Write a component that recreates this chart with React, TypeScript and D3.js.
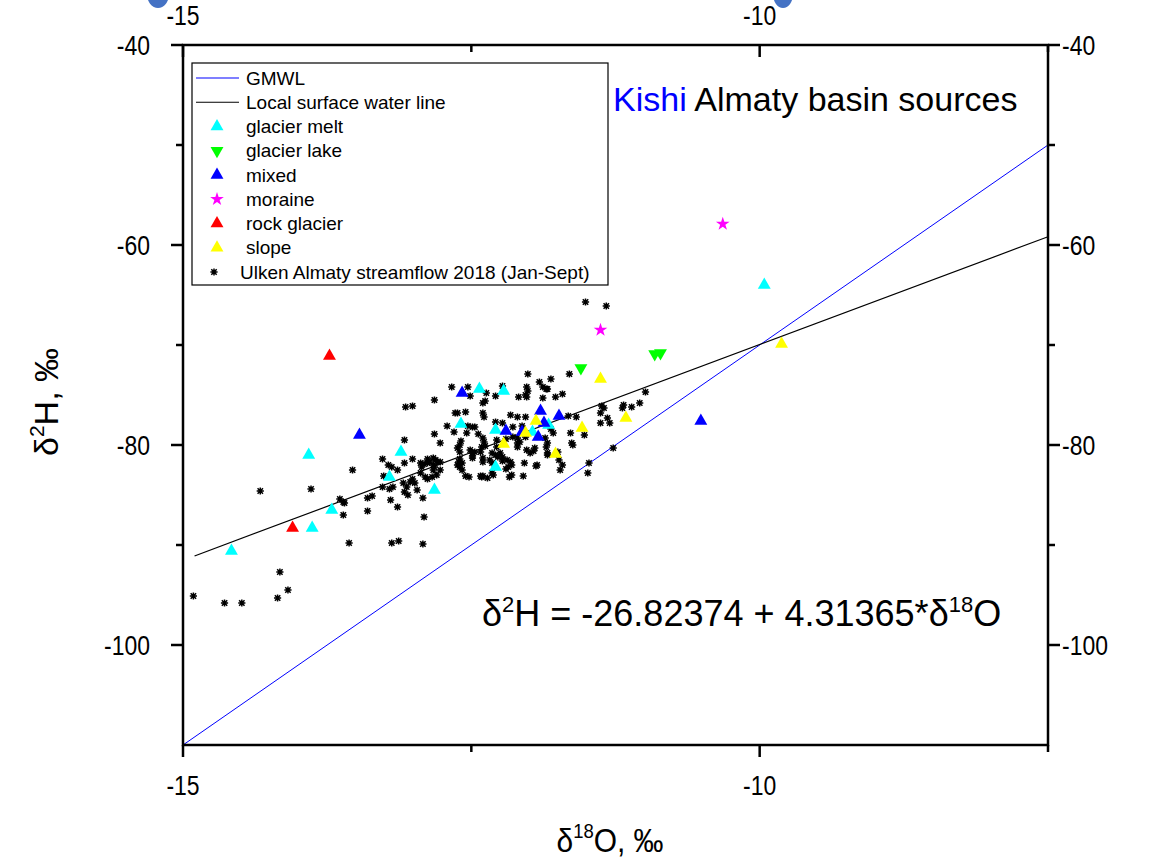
import React from "react";
import * as d3 from "d3";

// ---------- data ----------
const xMajorTicks = [-15, -10];
const xMinorTicks = [-12.5, -7.5];
const yMajorTicks = [-40, -60, -80, -100];
const yMinorTicks = [-50, -70, -90];

const gmwl = { intercept: 10, slope: 8, from: -15, to: -7.5 };
const lswl = { intercept: -26.82374, slope: 4.31365, from: -14.9, to: -7.5 };

const glacierMelt: [number, number][] = [
  [-14.58, -90.6], [-13.91, -81.0], [-13.88, -88.3], [-13.71, -86.5], [-13.21, -83.2],
  [-13.11, -80.7], [-12.82, -84.5], [-12.59, -77.9], [-12.43, -74.4], [-12.22, -74.6],
  [-12.29, -78.5], [-12.29, -82.2], [-11.97, -78.7], [-11.83, -78.0], [-9.96, -64.0],
];
const glacierLake: [number, number][] = [
  [-11.55, -72.3], [-10.91, -70.9], [-10.86, -70.8],
];
const mixed: [number, number][] = [
  [-13.47, -79.0], [-12.58, -74.8], [-12.2, -78.6], [-12.06, -78.7], [-11.9, -76.6],
  [-11.87, -77.8], [-11.92, -79.2], [-11.74, -77.1], [-10.51, -77.6],
];
const moraine: [number, number][] = [
  [-10.32, -57.9], [-11.38, -68.5],
];
const rockGlacier: [number, number][] = [
  [-13.73, -71.1], [-14.05, -88.3],
];
const slope: [number, number][] = [
  [-12.22, -79.9], [-12.03, -78.8], [-11.94, -77.6], [-11.77, -80.9], [-11.54, -78.3],
  [-11.38, -73.4], [-11.16, -77.3], [-9.81, -69.9],
];
const streamflow: [number, number][] = [
  [-14.91, -95.1], [-14.64, -95.8], [-14.49, -95.8], [-14.33, -84.6], [-14.18, -95.3],
  [-14.09, -94.5], [-14.16, -92.7], [-13.89, -84.4], [-13.56, -89.8], [-13.64, -85.4],
  [-13.61, -85.7], [-13.6, -85.8], [-13.61, -87.0], [-13.53, -82.5], [-13.4, -85.3],
  [-13.36, -85.1], [-13.4, -86.6], [-13.27, -81.4], [-13.22, -82.0], [-13.19, -82.2],
  [-13.14, -82.5], [-13.26, -83.1], [-13.27, -84.2], [-13.21, -84.4], [-13.18, -84.2],
  [-13.2, -85.5], [-13.14, -86.2], [-13.09, -83.8], [-13.06, -84.2], [-13.08, -84.7],
  [-13.05, -85.0], [-13.19, -89.8], [-13.13, -89.6], [-13.08, -79.5], [-13.08, -81.8],
  [-13.07, -76.2], [-13.01, -76.1], [-13.01, -81.4], [-13.03, -83.7], [-13.01, -83.4],
  [-12.99, -83.8], [-12.97, -84.5], [-12.92, -85.3], [-12.91, -87.2], [-12.92, -89.9],
  [-12.94, -81.8], [-12.91, -81.9], [-12.94, -82.8], [-12.93, -82.2], [-12.88, -81.8],
  [-12.88, -81.4], [-12.86, -81.7], [-12.83, -82.0], [-12.81, -81.5], [-12.83, -81.3],
  [-12.79, -81.7], [-12.82, -82.2], [-12.77, -82.5], [-12.83, -82.5], [-12.84, -83.2],
  [-12.8, -83.0], [-12.88, -83.4], [-12.9, -83.2], [-12.77, -81.7], [-12.82, -75.5],
  [-12.82, -78.9], [-12.77, -79.8], [-12.71, -78.1], [-12.67, -74.2], [-12.64, -76.8],
  [-12.62, -76.8], [-12.65, -78.7], [-12.62, -80.3], [-12.61, -81.7], [-12.6, -81.4],
  [-12.58, -81.8], [-12.6, -82.2], [-12.58, -82.5], [-12.62, -82.0], [-12.55, -76.7],
  [-12.53, -74.2], [-12.51, -75.1], [-12.37, -74.8], [-12.29, -75.1], [-12.23, -74.1],
  [-12.4, -75.8], [-12.38, -75.6], [-12.4, -76.8], [-12.39, -77.2], [-12.53, -78.1],
  [-12.49, -78.2], [-12.47, -78.2], [-12.54, -78.8], [-12.44, -78.9], [-12.59, -79.6],
  [-12.6, -80.0], [-12.6, -80.7], [-12.51, -80.5], [-12.49, -80.8], [-12.47, -80.7],
  [-12.49, -81.1], [-12.49, -81.3], [-12.41, -80.2], [-12.42, -80.7], [-12.4, -79.3],
  [-12.39, -79.7], [-12.38, -80.1], [-12.4, -81.3], [-12.4, -81.7], [-12.34, -81.5],
  [-12.32, -81.8], [-12.32, -80.8], [-12.29, -81.0], [-12.27, -81.2], [-12.25, -80.8],
  [-12.23, -81.6], [-12.23, -81.2], [-12.28, -80.2], [-12.28, -79.5], [-12.29, -77.7],
  [-12.23, -77.8], [-12.16, -77.0], [-12.1, -77.2], [-12.03, -77.2], [-12.14, -78.2],
  [-12.06, -78.1], [-12.2, -79.4], [-12.14, -79.2], [-12.1, -79.3], [-12.1, -79.8],
  [-12.1, -80.2], [-12.03, -79.2], [-12.08, -79.7], [-12.02, -80.5], [-11.99, -80.8],
  [-11.95, -80.3], [-11.96, -80.6], [-12.04, -81.8], [-11.94, -82.1], [-12.19, -81.5],
  [-12.16, -81.7], [-12.15, -82.0], [-12.18, -82.2], [-12.2, -82.4], [-12.17, -83.2],
  [-12.15, -83.0], [-12.05, -83.1], [-12.55, -83.1], [-12.52, -83.2], [-12.42, -83.1],
  [-12.41, -83.2], [-12.4, -83.1], [-12.36, -83.3], [-12.32, -82.8], [-12.31, -83.0],
  [-12.09, -75.2], [-12.02, -74.2], [-12.01, -74.6], [-12.03, -75.0], [-12.02, -75.2],
  [-11.88, -74.2], [-11.85, -74.4], [-11.84, -74.4], [-11.88, -75.3], [-11.77, -75.2],
  [-11.71, -74.9], [-11.91, -73.7], [-11.81, -73.4], [-12.01, -72.9], [-11.65, -72.9],
  [-11.51, -65.7], [-11.33, -66.1], [-11.84, -80.8], [-11.81, -78.4], [-11.79, -78.8],
  [-11.86, -79.3], [-11.84, -79.8], [-11.85, -80.2], [-11.84, -81.0], [-11.93, -82.0],
  [-11.75, -80.7], [-11.74, -81.5], [-11.71, -82.0], [-11.73, -82.5], [-11.64, -78.8],
  [-11.62, -80.0], [-11.63, -79.8], [-11.59, -77.2], [-11.66, -77.1], [-11.52, -79.0],
  [-11.48, -81.8], [-11.49, -82.8], [-11.37, -76.1], [-11.35, -76.3], [-11.38, -76.8],
  [-11.32, -77.3], [-11.38, -77.8], [-11.3, -77.8], [-11.19, -76.3], [-11.18, -76.0],
  [-11.11, -76.2], [-11.04, -75.8], [-10.99, -74.7], [-11.27, -80.3],
];

const legendItems = [
  { label: "GMWL", kind: "line", color: "#0000ff" },
  { label: "Local surface water line", kind: "line", color: "#000000" },
  { label: "glacier melt", kind: "up", color: "#00ffff" },
  { label: "glacier lake", kind: "down", color: "#00ff00" },
  { label: "mixed", kind: "up", color: "#0000ff" },
  { label: "moraine", kind: "star", color: "#ff00ff" },
  { label: "rock glacier", kind: "up", color: "#ff0000" },
  { label: "slope", kind: "up", color: "#ffff00" },
  { label: "Ulken Almaty streamflow 2018 (Jan-Sept)", kind: "ast", color: "#000000" },
];

// ---------- layout ----------
const W = 1151;
const H = 859;
const L = 183, R = 1048, T = 45, B = 745;
const FONT = "'Liberation Sans', Arial, sans-serif";

const x = d3.scaleLinear().domain([-15, -7.5]).range([L, R]);
const y = d3.scaleLinear().domain([-110, -40]).range([B, T]);

const triUp = d3.symbol().type(d3.symbolTriangle).size(72)() as string;
const star = d3.symbol().type(d3.symbolStar).size(58)() as string;
const ast = (r: number) =>
  `M${-r},0L${r},0M0,${-r}L0,${r}M${-r * 0.75},${-r * 0.75}L${r * 0.75},${r * 0.75}M${-r * 0.75},${r * 0.75}L${r * 0.75},${-r * 0.75}`;

function lineD(l: { intercept: number; slope: number; from: number; to: number }) {
  const g = d3.line<number>().x((v) => x(v)).y((v) => y(l.intercept + l.slope * v));
  return g([l.from, l.to]) as string;
}

function Marker({ kind, color, cx, cy }: { kind: string; color: string; cx: number; cy: number }) {
  if (kind === "up") return <path d={triUp} transform={`translate(${cx},${cy})`} fill={color} />;
  if (kind === "down") return <path d={triUp} transform={`translate(${cx},${cy}) rotate(180)`} fill={color} />;
  if (kind === "star") return <path d={star} transform={`translate(${cx},${cy})`} fill={color} />;
  return <path d={ast(3.6)} transform={`translate(${cx},${cy})`} stroke={color} strokeWidth={1.5} fill="none" />;
}

function NText({ x: tx, y: ty, size, anchor, sx, children }: any) {
  return (
    <text transform={`translate(${tx},${ty}) scale(${sx},1)`} fontSize={size} textAnchor={anchor}>
      {children}
    </text>
  );
}

export default function App() {
  const series: { data: [number, number][]; kind: string; color: string }[] = [
    { data: glacierMelt, kind: "up", color: "#00ffff" },
    { data: glacierLake, kind: "down", color: "#00ff00" },
    { data: mixed, kind: "up", color: "#0000ff" },
    { data: moraine, kind: "star", color: "#ff00ff" },
    { data: rockGlacier, kind: "up", color: "#ff0000" },
    { data: slope, kind: "up", color: "#ffff00" },
  ];
  const tf = 28;
  const sx = 0.82;
  return (
    <svg width={W} height={H} style={{ position: "absolute", left: 0, top: 0, background: "#fff" }} fontFamily={FONT}>
      <rect width={W} height={H} fill="#fff" />
      {/* decorative cut-off blobs at top */}
      <ellipse cx={158} cy={-6} rx={11} ry={14} fill="#4472c4" />
      <ellipse cx={783} cy={-6} rx={10} ry={14} fill="#4472c4" />

      {/* lines */}
      <path d={lineD(gmwl)} stroke="#0000ff" strokeWidth={1} fill="none" />
      <path d={lineD(lswl)} stroke="#000" strokeWidth={1.2} fill="none" />

      {/* streamflow */}
      {streamflow.map((d, i) => (
        <Marker key={"s" + i} kind="ast" color="#000" cx={x(d[0])} cy={y(d[1])} />
      ))}
      {series.map((s, si) =>
        s.data.map((d, i) => <Marker key={si + "-" + i} kind={s.kind} color={s.color} cx={x(d[0])} cy={y(d[1])} />)
      )}

      {/* frame */}
      <rect x={L} y={T} width={R - L} height={B - T} fill="none" stroke="#000" strokeWidth={2.5} />

      {/* ticks bottom (outward) and top (inward) */}
      {xMajorTicks.map((t) => (
        <g key={"xm" + t}>
          <line x1={x(t)} x2={x(t)} y1={B} y2={B + 12} stroke="#000" strokeWidth={2.5} />
          <line x1={x(t)} x2={x(t)} y1={T} y2={T + 12} stroke="#000" strokeWidth={2.5} />
          <NText x={x(t)} y={B + 50} size={tf} anchor="middle" sx={sx}>{t}</NText>
          <NText x={x(t)} y={25} size={tf} anchor="middle" sx={sx}>{t}</NText>
        </g>
      ))}
      {xMinorTicks.map((t) => (
        <g key={"xn" + t}>
          <line x1={x(t)} x2={x(t)} y1={B} y2={B + 7} stroke="#000" strokeWidth={2.5} />
          <line x1={x(t)} x2={x(t)} y1={T} y2={T + 7} stroke="#000" strokeWidth={2.5} />
        </g>
      ))}
      {yMajorTicks.map((t) => (
        <g key={"ym" + t}>
          <line x1={L - 12} x2={L} y1={y(t)} y2={y(t)} stroke="#000" strokeWidth={2.5} />
          <line x1={R} x2={R + 12} y1={y(t)} y2={y(t)} stroke="#000" strokeWidth={2.5} />
          <NText x={L - 33} y={y(t) + 10} size={tf} anchor="end" sx={sx}>{t}</NText>
          <NText x={R + 14} y={y(t) + 10} size={tf} anchor="start" sx={sx}>{t}</NText>
        </g>
      ))}
      {yMinorTicks.map((t) => (
        <g key={"yn" + t}>
          <line x1={L - 7} x2={L} y1={y(t)} y2={y(t)} stroke="#000" strokeWidth={2.5} />
          <line x1={R} x2={R + 7} y1={y(t)} y2={y(t)} stroke="#000" strokeWidth={2.5} />
        </g>
      ))}

      {/* axis titles */}
      <text transform="translate(610,852) scale(0.88,1)" fontSize={34} textAnchor="middle">
        δ<tspan fontSize={21} dy={-14}>18</tspan><tspan dy={14}>O, ‰</tspan>
      </text>
      <text transform="translate(58,402) rotate(-90)" fontSize={34} textAnchor="middle">
        δ<tspan fontSize={21} dy={-14}>2</tspan><tspan dy={14}>H, ‰</tspan>
      </text>

      {/* legend */}
      <rect x={192} y={63} width={416} height={222} fill="#fff" stroke="#000" strokeWidth={1.2} />
      {legendItems.map((it, i) => {
        const cy = 78 + i * 24.25;
        return (
          <g key={"lg" + i}>
            {it.kind === "line" ? (
              <line x1={196} x2={239} y1={cy} y2={cy} stroke={it.color} strokeWidth={1.2} />
            ) : (
              <Marker kind={it.kind} color={it.color} cx={it.kind === "ast" ? 214 : 217} cy={cy} />
            )}
            <text x={it.kind === "ast" ? 240 : 246} y={cy + 6.5} fontSize={19}>{it.label}</text>
          </g>
        );
      })}

      {/* annotations */}
      <text x={613} y={111} fontSize={34}>
        <tspan fill="#0000ff">Kishi</tspan><tspan fill="#000"> Almaty basin sources</tspan>
      </text>
      <text x={482} y={626} fontSize={36}>
        δ<tspan fontSize={22} dy={-14}>2</tspan><tspan dy={14}>H = -26.82374 + 4.31365*δ</tspan><tspan fontSize={22} dy={-14}>18</tspan><tspan dy={14}>O</tspan>
      </text>
    </svg>
  );
}
